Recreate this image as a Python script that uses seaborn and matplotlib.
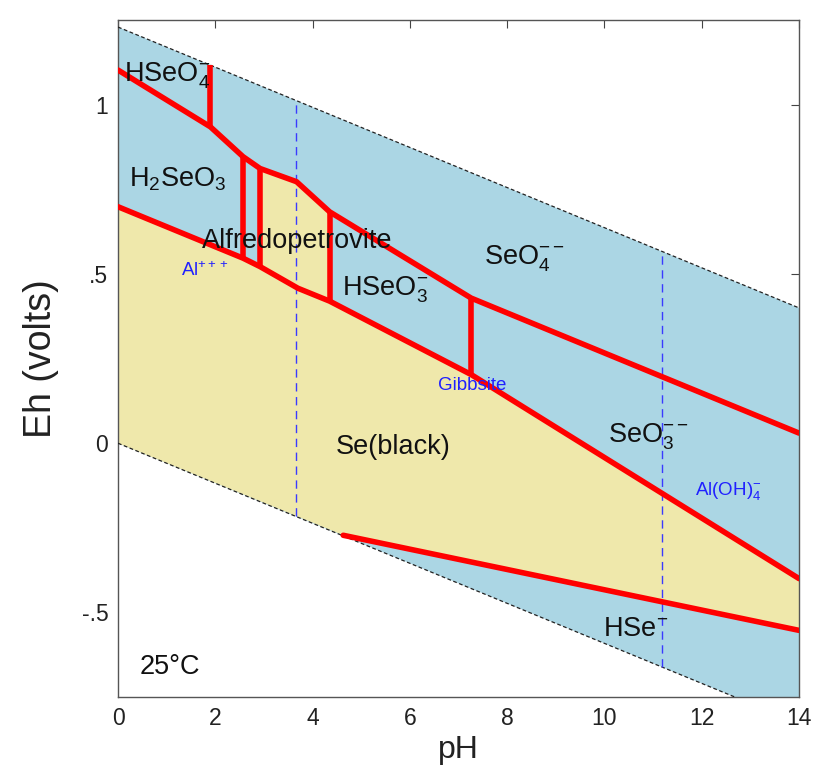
import numpy as np
import pandas as pd
import matplotlib
matplotlib.use("Agg")
import matplotlib.pyplot as plt
import seaborn as sns

# water stability limits (pH, Eh)
water_ph = [0, 14]
water_top = [1.23, 0.40]
water_bot = [0.0, -0.828]

# upper red boundary chain (HSeO4-/H2SeO3/.../SeO4--/SeO3--)
top_ph = [0, 1.90, 2.57, 2.92, 3.67, 4.35, 7.26, 14]
top_eh = [1.103, 0.935, 0.847, 0.812, 0.773, 0.684, 0.429, 0.03]

# lower red boundary chain (solid Se upper limit)
low_ph = [0, 2.57, 2.92, 3.70, 4.35, 7.26, 14]
low_eh = [0.699, 0.547, 0.522, 0.458, 0.42, 0.203, -0.40]

# Se(black) / HSe- boundary
hse_ph = [4.63, 14]
hse_eh = [-0.272, -0.553]

# vertical boundaries: pH, Eh top, Eh bottom
vert_ph = [1.90, 2.57, 2.92, 4.35, 7.26]
vert_top = [1.118, 0.847, 0.812, 0.684, 0.429]
vert_bot = [0.935, 0.547, 0.522, 0.42, 0.203]

# Al species boundaries (blue dashed)
al_ph = [3.655, 11.19]

# field labels
labels = ["HSeO$_4^{-}$", "H$_2$SeO$_3$", "Alfredopetrovite", "HSeO$_3^{-}$",
          "SeO$_4^{--}$", "Se(black)", "SeO$_3^{--}$", "HSe$^{-}$", "25°C"]
label_ph = [1.00, 1.23, 3.68, 5.50, 8.35, 5.65, 10.90, 10.65, 1.07]
label_eh = [1.085, 0.78, 0.598, 0.455, 0.545, -0.01, 0.02, -0.55, -0.66]

al_labels = ["Al$^{+++}$", "Gibbsite", "Al(OH)$_4^{-}$"]
al_lab_ph = [1.78, 7.28, 12.55]
al_lab_eh = [0.51, 0.17, -0.14]

sns.set_theme(style="white")
plt.rcParams["font.family"] = ["Liberation Sans", "DejaVu Sans"]
plt.rcParams["mathtext.fontset"] = "custom"
plt.rcParams["mathtext.rm"] = "Liberation Sans"
plt.rcParams["mathtext.it"] = "Liberation Sans"
plt.rcParams["mathtext.default"] = "regular"

fig = plt.figure(figsize=(8.14, 7.69), dpi=100)
ax = fig.add_axes([0.145, 0.0936, 0.8366, 0.880])

blue = "#abd6e4"
yellow = "#efe8ab"

# water stability field
ax.fill(water_ph + water_ph[::-1], water_top + water_bot[::-1],
        color=blue, lw=0, zorder=1)

# Se(black) field
se_x = low_ph + [14, hse_ph[0], 0]
se_y = low_eh + [hse_eh[1], hse_eh[0], 0.0]
ax.fill(se_x, se_y, color=yellow, lw=0, zorder=2)

# Alfredopetrovite field
alf_x = top_ph[3:6] + low_ph[4:1:-1]
alf_y = top_eh[3:6] + low_eh[4:1:-1]
ax.fill(alf_x, alf_y, color=yellow, lw=0, zorder=2)

# water limits
for y in (water_top, water_bot):
    sns.lineplot(x=water_ph, y=y, color="#222222", lw=0.9, ax=ax,
                 linestyle=(0, (3, 2)), zorder=3)

# Al boundaries
for p in al_ph:
    yt = water_top[0] + (water_top[1] - water_top[0]) * p / 14
    yb = water_bot[0] + (water_bot[1] - water_bot[0]) * p / 14
    ax.plot([p, p], [yb, yt], color="#3a3aff", lw=1.0,
            linestyle=(0, (6, 4)), zorder=3)

# red boundaries
red_kw = dict(color="red", lw=4, ax=ax, sort=False, estimator=None, zorder=4)
sns.lineplot(x=top_ph, y=top_eh, **red_kw)
sns.lineplot(x=low_ph, y=low_eh, **red_kw)
sns.lineplot(x=hse_ph, y=hse_eh, **red_kw)
for p, t, b in zip(vert_ph, vert_top, vert_bot):
    ax.plot([p, p], [b, t], color="red", lw=4, zorder=4,
            solid_capstyle="butt")

for s, x, y in zip(labels, label_ph, label_eh):
    ax.text(x, y, s, fontsize=19.5, color="#111111", ha="center",
            va="center", zorder=5)
for s, x, y in zip(al_labels, al_lab_ph, al_lab_eh):
    ax.text(x, y, s, fontsize=13.5, color="#2020ff", ha="center",
            va="center", zorder=5)

ax.set_xlim(0, 14)
ax.set_ylim(-0.75, 1.25)
ax.set_xticks(range(0, 15, 2))
ax.set_yticks([-0.5, 0, 0.5, 1])
ax.set_yticklabels(["-.5", "0", ".5", "1"])
ax.tick_params(direction="in", length=6, width=0.8, colors="#444444",
               labelsize=16.5, top=True, right=True, labelcolor="#222222",
               pad=7)
for sp in ax.spines.values():
    sp.set_color("#555555")
    sp.set_linewidth(1.0)
ax.set_xlabel("pH", fontsize=23, color="#222222", labelpad=4)
ax.set_ylabel("Eh (volts)", fontsize=27, color="#222222", labelpad=16)

fig.savefig("out.png", dpi=100)
